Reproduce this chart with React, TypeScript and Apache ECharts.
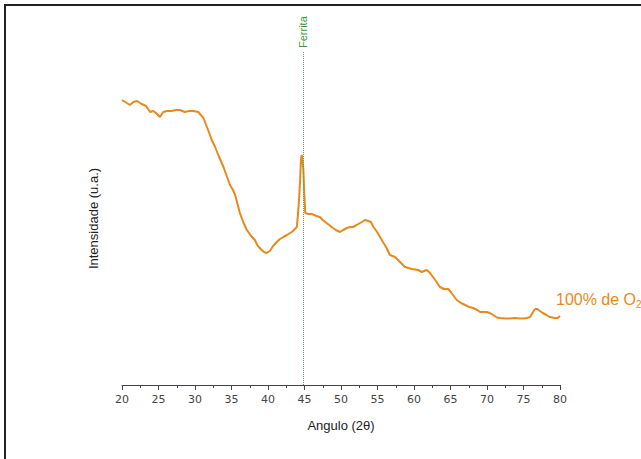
import React, { useEffect, useRef } from "react";
import * as echarts from "echarts";

const angles = [20.0, 21.1, 21.55, 22.05, 22.7, 23.3, 23.85, 24.3, 24.8, 25.2, 25.65, 26.15, 26.8, 27.4, 27.95, 28.6, 29.2, 29.75, 30.45, 31.15, 31.8, 32.3, 32.75, 33.3, 33.9, 34.4, 34.8, 35.2, 35.5, 36.15, 36.6, 37.1, 37.7, 38.2, 38.6, 39.15, 39.45, 39.8, 40.25, 40.7, 41.2, 41.65, 42.1, 42.6, 43.25, 43.55, 43.95, 44.1, 44.25, 44.4, 44.5, 44.6, 44.7, 44.85, 44.95, 45.05, 45.1, 45.5, 46.0, 46.65, 47.1, 47.5, 48.2, 48.9, 49.3, 49.85, 50.3, 50.8, 51.25, 51.65, 52.15, 52.85, 53.3, 53.75, 54.1, 54.45, 54.95, 55.35, 55.75, 56.25, 56.7, 57.4, 58.1, 58.75, 59.7, 60.55, 61.05, 61.75, 62.2, 62.9, 63.55, 64.1, 64.7, 65.15, 65.85, 66.45, 67.0, 67.55, 68.1, 68.65, 69.05, 69.95, 70.4, 70.85, 71.35, 71.8, 72.45, 73.15, 73.85, 74.5, 75.05, 75.45, 75.9, 76.3, 76.6, 76.9, 77.25, 77.65, 78.15, 78.6, 79.3, 79.7, 80.0];
const intensity = [285, 280, 283, 284, 281, 279, 273, 274, 271, 268, 273, 274, 274, 275, 275, 273, 274, 274, 273, 267, 255, 245, 238, 228, 218, 208, 200, 195, 190, 172, 163, 155, 149, 145, 139, 135, 133, 132, 134, 139, 143, 146, 148, 150, 153, 155, 158, 170, 185, 205, 223, 230, 227, 215, 195, 180, 172, 171, 171, 169, 168, 165, 161, 157, 155, 153, 155, 157, 158, 158, 160, 163, 165, 164, 163, 158, 153, 148, 143, 137, 130, 128, 123, 118, 116, 115, 113, 115, 112, 105, 98, 96, 96, 92, 85, 82, 80, 78, 77, 75, 73, 73, 72, 70, 67.5, 67, 66.5, 66.5, 67, 66.5, 66.5, 67, 68, 73, 76, 76, 74, 72, 70, 68, 67, 67, 69];
const ferritaAngle = 44.85;
const xTickMin = 20;
const xTickMax = 80;
const xTickStep = 5;
const yMax = 333;

export default function App() {
  const ref = useRef<HTMLDivElement>(null);
  useEffect(() => {
    if (!ref.current) return;
    const chart = echarts.init(ref.current, null, { renderer: "svg" });
    const data = angles.map((a, i) => [a, intensity[i]]);
    chart.setOption({
      animation: false,
      backgroundColor: "#fff",
      textStyle: { fontFamily: "Liberation Sans, Arial, sans-serif" },
      graphic: [
        {
          type: "rect",
          shape: { x: 5, y: 5, width: 700, height: 500 },
          style: { fill: "none", stroke: "#222", lineWidth: 2 },
          silent: true,
        },
      ],
      grid: { left: 122, right: 81, top: 52, bottom: 74 },
      xAxis: {
        type: "value",
        min: xTickMin,
        max: xTickMax,
        interval: xTickStep,
        name: "Angulo (2θ)",
        nameLocation: "middle",
        nameGap: 34,
        nameTextStyle: { color: "#222", fontSize: 13 },
        axisLine: { show: true, lineStyle: { color: "#444", width: 1 } },
        axisTick: { show: true, length: 5, lineStyle: { color: "#444" } },
        minorTick: { show: true, splitNumber: 2, length: 3, lineStyle: { color: "#444" } },
        splitLine: { show: false },
        axisLabel: { color: "#444", fontSize: 11, margin: 9, fontFamily: "DejaVu Sans" },
      },
      yAxis: {
        type: "value",
        min: 0,
        max: yMax,
        name: "Intensidade (u.a.)",
        nameLocation: "middle",
        nameGap: 22,
        nameTextStyle: { color: "#222", fontSize: 13, padding: [0, 0, 0, 0] },
        axisLine: { show: false },
        axisTick: { show: false },
        axisLabel: { show: false },
        splitLine: { show: false },
      },
      series: [
        {
          type: "line",
          data,
          showSymbol: false,
          symbol: "none",
          lineStyle: { color: "#E8891C", width: 2 },
          itemStyle: { color: "#E8891C" },
          endLabel: {
            show: true,
            formatter: "100% de O{sub|2}",
            color: "#E8891C",
            fontSize: 16,
            offset: [-12, -17],
            rich: { sub: { fontSize: 10, color: "#E8891C", verticalAlign: "bottom", padding: [10, 0, 0, 0] } },
          },
          markLine: {
            silent: true,
            symbol: "none",
            lineStyle: { type: "dotted", color: "#5c9a6e", width: 1 },
            label: {
              show: true,
              formatter: "Ferrita",
              position: "end",
              rotate: 90,
              align: "left",
              verticalAlign: "middle",
              color: "#3a9a3a",
              fontSize: 11,
              distance: 4,
            },
            data: [{ xAxis: ferritaAngle }],
          },
        },
      ],
    });
    return () => chart.dispose();
  }, []);
  return <div ref={ref} style={{ position: "fixed", left: 0, top: 0, width: 641, height: 459 }} />;
}
